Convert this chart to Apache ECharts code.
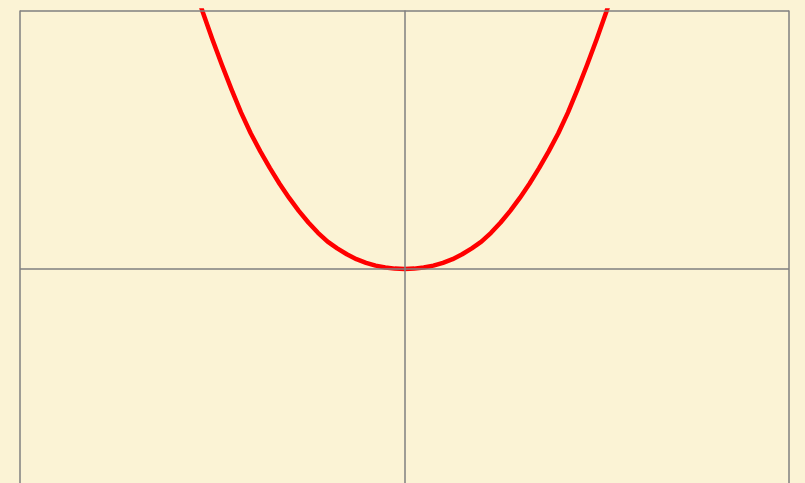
<!DOCTYPE html>
<html>
<head>
<meta charset="utf-8">
<title>Curve</title>
<script src="https://cdn.jsdelivr.net/npm/echarts@6/dist/echarts.min.js"></script>
<style>
  html, body { margin: 0; padding: 0; width: 100%; height: 100%; overflow: hidden; }
  body { background-color: #fbf3d5; }
  /* the plot area runs past the bottom of the window */
  #chart { width: 805px; height: 528px; }
</style>
</head>
<body>
<div id="chart"></div>
<script>
// Sample points of the curve (x, y)
var xValues = [-5.5, -5.25, -5, -4.75, -4.5, -4.25, -4, -3.75, -3.5, -3.25, -3, -2.75,
               -2.5, -2.25, -2, -1.75, -1.5, -1.25, -1, -0.75, -0.5, -0.25, 0,
               0.25, 0.5, 0.75, 1, 1.25, 1.5, 1.75, 2, 2.25, 2.5,
               2.75, 3, 3.25, 3.5, 3.75, 4, 4.25, 4.5, 4.75, 5, 5.25, 5.5];
var yValues = [11.1, 9.95, 8.9, 7.9, 6.95, 6.05, 5.25, 4.55, 3.9, 3.3, 2.75, 2.25,
               1.8, 1.4, 1.06, 0.8, 0.57, 0.38, 0.24, 0.13, 0.06, 0.015, 0,
               0.015, 0.06, 0.13, 0.24, 0.38, 0.57, 0.8, 1.06, 1.4, 1.8,
               2.25, 2.75, 3.3, 3.9, 4.55, 5.25, 6.05, 6.95, 7.9, 8.9, 9.95, 11.1];

// Axis extents and gridline step
var xMin = -10, xMax = 10, xStep = 10;
var yMin = -10, yMax = 10, yStep = 10;

var points = xValues.map(function (x, i) { return [x, yValues[i]]; });

var gridLine = { color: '#7f7f7f', width: 1.5 };

var chart = echarts.init(document.getElementById('chart'), null, { renderer: 'canvas' });
chart.setOption({
  backgroundColor: 'transparent',
  animation: false,
  grid: { left: 20, right: 16, top: 10.5, bottom: 0.5, containLabel: false },
  xAxis: {
    type: 'value', min: xMin, max: xMax, interval: xStep, z: 5,
    axisLine: { show: false }, axisTick: { show: false }, axisLabel: { show: false },
    splitLine: { show: true, lineStyle: gridLine }
  },
  yAxis: {
    type: 'value', min: yMin, max: yMax, interval: yStep, z: 5,
    axisLine: { show: false }, axisTick: { show: false }, axisLabel: { show: false },
    splitLine: { show: true, lineStyle: gridLine }
  },
  series: [{
    type: 'line',
    data: points,
    smooth: false,
    showSymbol: false,
    clip: true,
    z: 2,
    lineStyle: { color: '#ff0000', width: 4.5, join: 'round', cap: 'round' }
  }]
});
</script>
</body>
</html>
